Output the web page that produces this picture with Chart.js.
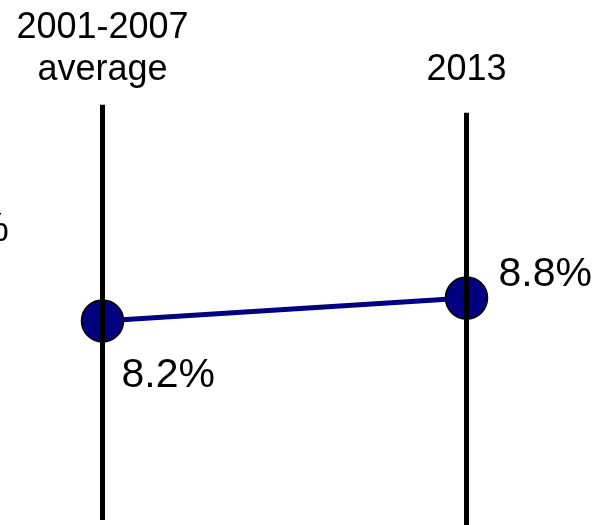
<!DOCTYPE html>
<html>
<head>
<meta charset="utf-8">
<script src="https://cdn.jsdelivr.net/npm/chart.js@4"></script>
<style>
  html, body { margin: 0; padding: 0; background: #fff; }
  #wrap { width: 597px; height: 525px; }
</style>
</head>
<body>
<div id="wrap"><canvas id="slope"></canvas></div>
<script>
// chart data
const periods = [['2001-2007', 'average'], ['2013']];
const rates = [8.2, 8.8];
const rateLabels = ['8.2%', '8.8%'];
// extent of the two vertical period lines (in rate units)
const lineTops = [13.84, 13.63];
const lineBottoms = [3.01, 2.7];

const NAVY = '#000080';
const FONT = '"Liberation Sans", Arial, sans-serif';

const xs = periods.map((p, i) => i);

// draws the period headings, the value labels and the clipped "%" at the left edge
const labelPlugin = {
  id: 'slopeLabels',
  afterDatasetsDraw(chart) {
    const { ctx, scales } = chart;
    const pts = chart.getDatasetMeta(2).data;
    ctx.save();
    ctx.fillStyle = '#000';

    // period headings, bottom lines share one baseline
    ctx.font = '36px ' + FONT;
    ctx.textAlign = 'center';
    ctx.textBaseline = 'alphabetic';
    periods.forEach((lines, i) => {
      const cx = scales.x.getPixelForValue(xs[i]);
      lines.forEach((txt, j) => {
        const by = 80 - (lines.length - 1 - j) * 42;
        ctx.fillText(txt, cx, by);
      });
    });

    // value labels
    ctx.font = '41px ' + FONT;
    ctx.textAlign = 'left';
    pts.forEach((p, i) => {
      if (i === 0) {
        ctx.fillText(rateLabels[i], p.x + 19, p.y + 66);
      } else {
        ctx.fillText(rateLabels[i], p.x + 32, p.y - 12);
      }
    });

    // leftover of a label cut off by the left edge
    ctx.textAlign = 'right';
    ctx.fillText('%', 9, 241);
    ctx.restore();
  }
};

new Chart(document.getElementById('slope'), {
  type: 'line',
  data: {
    datasets: [
      {
        data: [{ x: xs[0], y: lineTops[0] }, { x: xs[0], y: lineBottoms[0] }],
        borderColor: '#000',
        borderWidth: 5,
        pointRadius: 0,
        borderCapStyle: 'butt',
      },
      {
        data: [{ x: xs[1], y: lineTops[1] }, { x: xs[1], y: lineBottoms[1] }],
        borderColor: '#000',
        borderWidth: 5,
        pointRadius: 0,
        borderCapStyle: 'butt',
      },
      {
        data: xs.map((x, i) => ({ x, y: rates[i] })),
        borderColor: NAVY,
        borderWidth: 5,
        pointRadius: 21,
        pointBackgroundColor: NAVY,
        pointBorderColor: '#000',
        pointBorderWidth: 1.5,
        tension: 0,
      },
    ],
  },
  options: {
    responsive: true,
    maintainAspectRatio: false,
    animation: false,
    clip: false,
    layout: { padding: 0, autoPadding: false },
    plugins: {
      legend: { display: false },
      tooltip: { enabled: false },
    },
    scales: {
      x: { type: 'linear', display: false, min: -0.2816, max: 1.3585 },
      y: { type: 'linear', display: false, min: 2.878, max: 16.574 },
    },
  },
  plugins: [labelPlugin],
});
</script>
</body>
</html>
